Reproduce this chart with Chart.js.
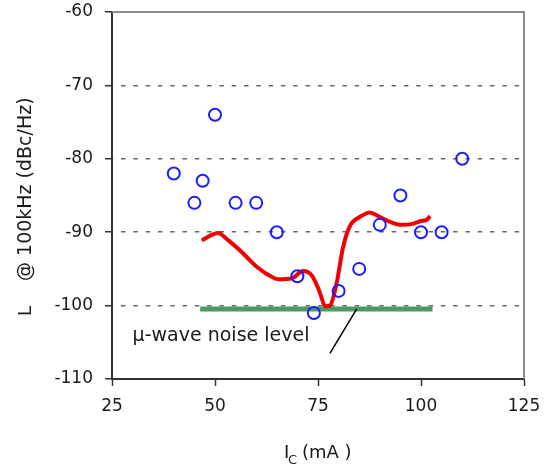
<!DOCTYPE html>
<html>
<head>
<meta charset="utf-8">
<script src="https://cdn.jsdelivr.net/npm/chart.js@4/dist/chart.umd.min.js"></script>
<style>
  html, body { margin: 0; padding: 0; background: #fff; }
  #wrap { width: 551px; height: 468px; }
</style>
</head>
<body>
<div id="wrap"><canvas id="grafico" width="551" height="468"></canvas></div>
<script>
// mediciones: ruido de fase a 100 kHz frente a la corriente de colector
const corrienteMedida = [40, 45, 47, 50, 55, 60, 65, 70, 74, 80, 85, 90, 95, 100, 105, 110];
const ruidoMedido = [-82, -86, -83, -74, -86, -86, -90, -96, -101, -98, -95, -89, -85, -90, -90, -80];

// curva simulada
const corrienteSim = [46.8, 50.8, 52.8, 56.1, 60.1, 64.2, 65.4, 68.6, 71.4, 73.5, 75.1, 76.9, 77.9, 79.5, 81.1, 82.8, 85.2, 87.6, 89.6, 92.5, 95.3, 97.7, 99.8, 101.4, 102.2];
const ruidoSim = [-91.1, -90.1, -90.9, -92.5, -94.7, -96.2, -96.4, -96.3, -95.3, -95.9, -97.7, -100.1, -100.0, -97.0, -92.0, -89.1, -87.9, -87.3, -87.8, -88.6, -89.0, -88.9, -88.5, -88.3, -87.8];

// nivel de ruido del sistema de microondas
const pisoX = [46.4, 102.8];
const pisoY = [-100.45, -100.45];

// línea de la etiqueta
const flechaX = [84.4, 77.9];
const flechaY = [-100.45, -106.5];

const ticksX = [25, 50, 75, 100, 125];
const ticksY = [-110, -100, -90, -80, -70, -60];

function puntos(xs, ys) {
    return xs.map((x, i) => ({ x: x, y: ys[i] }));
}

const fuenteTicks = { family: "'DejaVu Sans', sans-serif", size: 17 };

// marco superior/derecho, títulos de ejes y etiqueta del piso de ruido
const extras = {
    id: "extras",
    afterDraw(chart) {
        const ctx = chart.ctx;
        const a = chart.chartArea;
        const sx = chart.scales.x;
        const sy = chart.scales.y;
        ctx.save();
        ctx.strokeStyle = "#8a8a8a";
        ctx.lineWidth = 2;
        ctx.beginPath();
        ctx.moveTo(a.left, a.top);
        ctx.lineTo(a.right, a.top);
        ctx.lineTo(a.right, a.bottom);
        ctx.stroke();

        ctx.fillStyle = "#1a1a1a";
        ctx.textBaseline = "alphabetic";
        ctx.textAlign = "left";
        ctx.font = "19px 'DejaVu Sans', sans-serif";
        ctx.fillText("\u00b5-wave noise level", sx.getPixelForValue(30), sy.getPixelForValue(-104.8));

        // título eje X: I_C (mA)
        ctx.font = "18px 'DejaVu Sans', sans-serif";
        ctx.fillText("I", 284, 458);
        ctx.font = "13px 'DejaVu Sans', sans-serif";
        ctx.fillText("C", 288, 464);
        ctx.font = "18px 'DejaVu Sans', sans-serif";
        ctx.fillText("(mA )", 302, 458);

        // título eje Y
        ctx.translate(31, 316);
        ctx.rotate(-Math.PI / 2);
        ctx.fillText("L", 0, 0);
        ctx.font = "19px 'DejaVu Sans', sans-serif";
        ctx.fillText("@ 100kHz (dBc/Hz)", 35, 0);
        ctx.restore();
    }
};

const ctx = document.getElementById("grafico").getContext("2d");

new Chart(ctx, {
    type: "scatter",
    data: {
        datasets: [
            {
                label: "medido",
                data: puntos(corrienteMedida, ruidoMedido),
                showLine: false,
                pointStyle: "circle",
                pointRadius: 6,
                pointBorderWidth: 2,
                pointBorderColor: "#1c1cff",
                pointBackgroundColor: "rgba(0,0,0,0)"
            },
            {
                label: "etiqueta",
                data: puntos(flechaX, flechaY),
                showLine: true,
                borderColor: "#000",
                borderWidth: 1.5,
                pointRadius: 0
            },
            {
                label: "simulado",
                data: puntos(corrienteSim, ruidoSim),
                showLine: true,
                borderColor: "#f00000",
                borderWidth: 4,
                pointRadius: 0,
                cubicInterpolationMode: "monotone"
            },
            {
                label: "piso",
                data: puntos(pisoX, pisoY),
                showLine: true,
                borderColor: "#4a9b63",
                borderWidth: 5,
                pointRadius: 0
            }
        ]
    },
    options: {
        responsive: false,
        animation: false,
        layout: { padding: { top: 12, right: 27, left: 0, bottom: 0 } },
        plugins: {
            legend: { display: false },
            tooltip: { enabled: false }
        },
        scales: {
            x: {
                type: "linear",
                min: 25,
                max: 125,
                afterFit: (s) => { s.height = 89; s.paddingLeft = 0; s.paddingRight = 0; },
                afterBuildTicks: (s) => { s.ticks = ticksX.map(v => ({ value: v })); },
                ticks: { font: fuenteTicks, color: "#1a1a1a", padding: 10 },
                grid: { drawOnChartArea: false, drawTicks: true, tickLength: 7, tickColor: "#333", tickWidth: 1.5 },
                border: { color: "#333", width: 2 }
            },
            y: {
                min: -110,
                max: -60,
                afterFit: (s) => { s.width = 112; s.paddingTop = 0; s.paddingBottom = 0; },
                afterBuildTicks: (s) => { s.ticks = ticksY.map(v => ({ value: v })); },
                ticks: { font: fuenteTicks, color: "#1a1a1a", padding: 12 },
                grid: {
                    drawTicks: true,
                    tickLength: 7,
                    tickColor: "#333",
                    tickWidth: 1.5,
                    tickBorderDash: [],
                    lineWidth: 1.5,
                    color: (c) => (c.tick && c.tick.value > -110 && c.tick.value < -60) ? "#666" : "rgba(0,0,0,0)"
                },
                border: { color: "#333", width: 2, dash: [4.5, 7.8], dashOffset: 4.3 }
            }
        }
    },
    plugins: [extras]
});
</script>
</body>
</html>
